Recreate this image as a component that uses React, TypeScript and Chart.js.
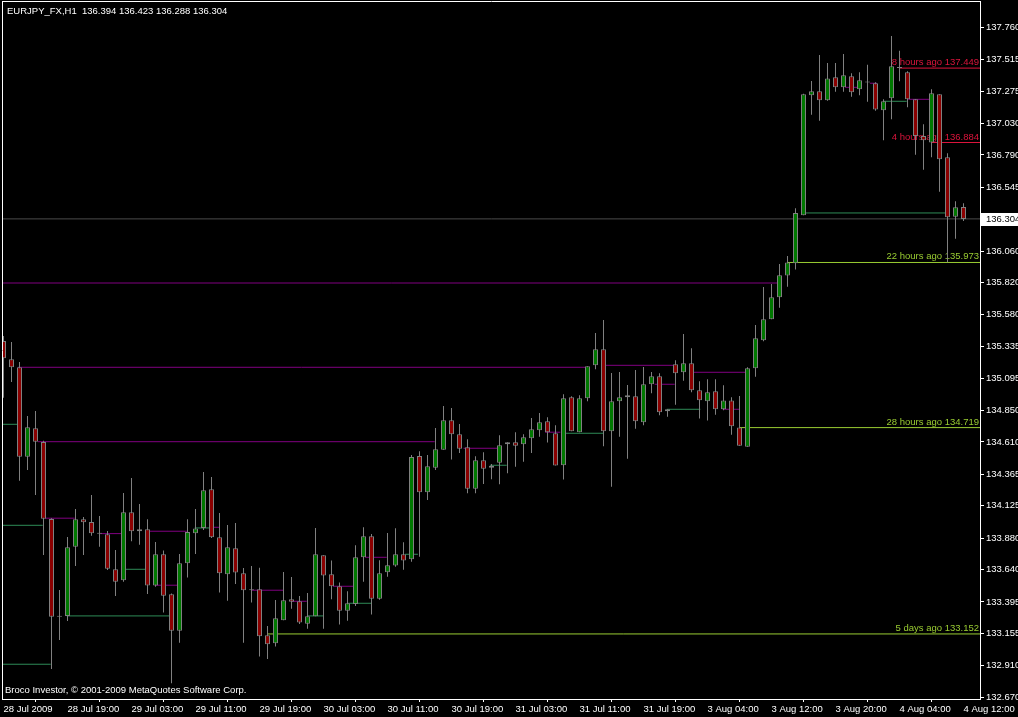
import React, { useEffect, useRef } from "react";
import { Chart, registerables } from "chart.js";

Chart.register(...registerables);

const titleText = "EURJPY_FX,H1  136.394 136.423 136.288 136.304";
const footerText = "Broco Investor, \u00A9 2001-2009 MetaQuotes Software Corp.";

// Hourly bars, index 0 = 28 Jul 2009 11:00 ... index 120 = 4 Aug 12:00
const opens = [
  135.377, 135.238, 135.177, 134.498, 134.714, 134.610, 134.025, 133.283, 133.289, 133.815,
  134.023, 134.002, 133.914, 133.909, 133.643, 133.560, 134.076, 133.932, 133.947, 133.519,
  133.757, 133.453, 133.177, 133.689, 133.917, 133.957, 134.251, 133.886, 133.605, 133.803,
  133.613, 133.484, 133.491, 133.142, 133.081, 133.256, 133.416, 133.400, 133.230, 133.286,
  133.750, 133.605, 133.514, 133.329, 133.380, 133.734, 133.894, 133.420, 133.621, 133.671,
  133.757, 133.719, 134.504, 134.228, 134.415, 134.551, 134.775, 134.668, 134.570, 134.255,
  134.471, 134.415, 134.453, 134.592, 134.608, 134.592, 134.638, 134.699, 134.767, 134.676,
  134.433, 134.949, 134.684, 134.942, 135.192, 135.314, 134.691, 134.919, 134.949, 134.957,
  134.759, 135.048, 135.109, 134.843, 135.200, 135.139, 135.207, 135.002, 134.919, 134.995,
  134.858, 134.924, 134.719, 134.574, 135.170, 135.382, 135.542, 135.709, 135.874, 135.967,
  136.331, 137.242, 137.273, 137.204, 137.379, 137.303, 137.387, 137.288, 137.341, 137.334,
  137.129, 137.220, 137.449, 137.417, 137.212, 136.933, 136.884, 137.250, 136.772, 136.321,
  136.394,
];
const highs = [
  135.415, 135.369, 135.217, 134.807, 134.845, 134.620, 134.031, 133.486, 133.889, 134.101,
  134.040, 134.207, 134.048, 133.934, 133.790, 134.223, 134.337, 134.139, 134.023, 133.851,
  133.785, 133.460, 133.759, 134.023, 134.101, 134.382, 134.344, 134.071, 133.980, 133.995,
  133.653, 133.668, 133.655, 133.213, 133.410, 133.623, 133.585, 133.441, 133.463, 133.957,
  133.750, 133.709, 133.542, 133.476, 133.826, 133.962, 133.911, 133.712, 133.919, 133.955,
  133.848, 134.511, 134.539, 134.511, 134.716, 134.883, 134.868, 134.747, 134.630, 134.501,
  134.532, 134.443, 134.661, 134.608, 134.684, 134.668, 134.792, 134.830, 134.797, 134.737,
  134.972, 134.957, 134.965, 135.185, 135.438, 135.536, 135.134, 135.141, 135.043, 135.157,
  135.179, 135.141, 135.132, 134.858, 135.230, 135.430, 135.321, 135.071, 135.086, 135.086,
  135.040, 134.949, 134.959, 135.177, 135.498, 135.787, 135.810, 135.961, 136.022, 136.384,
  137.255, 137.351, 137.548, 137.488, 137.488, 137.556, 137.409, 137.417, 137.475, 137.341,
  137.212, 137.693, 137.581, 137.425, 137.212, 137.022, 137.288, 137.250, 136.802, 136.438,
  136.423,
];
const lows = [
  134.946, 135.065, 134.316, 134.397, 134.207, 133.752, 132.886, 133.106, 133.251, 133.668,
  133.752, 133.898, 133.815, 133.638, 133.441, 133.549, 133.856, 133.830, 133.456, 133.511,
  133.314, 132.778, 133.086, 133.580, 133.759, 133.942, 133.880, 133.466, 133.405, 133.532,
  133.086, 133.390, 132.980, 132.962, 133.056, 133.256, 133.344, 133.228, 133.192, 133.286,
  133.192, 133.416, 133.223, 133.253, 133.365, 133.549, 133.299, 133.412, 133.587, 133.663,
  133.640, 133.701, 133.739, 134.170, 134.397, 134.551, 134.476, 134.526, 134.220, 134.220,
  134.291, 134.327, 134.289, 134.372, 134.422, 134.460, 134.526, 134.650, 134.606, 134.431,
  134.324, 134.691, 134.684, 134.919, 135.162, 134.577, 134.270, 134.650, 134.483, 134.711,
  134.737, 134.980, 134.813, 134.802, 134.893, 135.075, 134.987, 134.788, 134.772, 134.817,
  134.851, 134.665, 134.582, 134.574, 135.106, 135.375, 135.542, 135.630, 135.789, 135.920,
  136.331, 137.095, 137.050, 137.201, 137.270, 137.270, 137.232, 137.242, 137.194, 137.125,
  136.901, 137.060, 137.349, 137.151, 136.791, 136.677, 136.772, 136.510, 135.974, 136.154,
  136.288,
];
const closes = [
  135.245, 135.177, 134.498, 134.721, 134.612, 134.027, 133.283, 133.286, 133.810, 134.023,
  134.000, 133.917, 133.912, 133.648, 133.549, 134.076, 133.932, 133.947, 133.519, 133.757,
  133.443, 133.177, 133.689, 133.926, 133.952, 134.243, 133.886, 133.613, 133.810, 133.618,
  133.484, 133.487, 133.135, 133.074, 133.271, 133.408, 133.397, 133.238, 133.286, 133.757,
  133.595, 133.514, 133.329, 133.385, 133.734, 133.894, 133.420, 133.613, 133.674, 133.757,
  133.709, 134.496, 134.228, 134.425, 134.554, 134.775, 134.668, 134.559, 134.255, 134.471,
  134.407, 134.430, 134.585, 134.608, 134.582, 134.646, 134.706, 134.759, 134.684, 134.431,
  134.942, 134.691, 134.942, 135.185, 135.314, 134.691, 134.919, 134.949, 134.965, 134.767,
  135.048, 135.109, 134.835, 134.858, 135.132, 135.207, 135.002, 134.926, 134.987, 134.858,
  134.924, 134.729, 134.582, 135.170, 135.397, 135.542, 135.709, 135.876, 135.973, 136.349,
  137.250, 137.273, 137.204, 137.371, 137.303, 137.394, 137.265, 137.356, 137.339, 137.135,
  137.197, 137.463, 137.455, 137.212, 136.933, 136.901, 137.258, 136.756, 136.316, 136.392,
  136.304,
];

const xTickBars = [0, 8, 16, 24, 32, 40, 48, 56, 64, 72, 80, 88, 96, 104, 112, 120];
const xTickLabels = [
  "28 Jul 2009", "28 Jul 19:00", "29 Jul 03:00", "29 Jul 11:00", "29 Jul 19:00",
  "30 Jul 03:00", "30 Jul 11:00", "30 Jul 19:00", "31 Jul 03:00", "31 Jul 11:00",
  "31 Jul 19:00", "3 Aug 04:00", "3 Aug 12:00", "3 Aug 20:00", "4 Aug 04:00", "4 Aug 12:00",
];
const yTickLabels = [
  "132.670", "132.910", "133.155", "133.395", "133.640", "133.880", "134.125", "134.365",
  "134.610", "134.850", "135.095", "135.335", "135.580", "135.820", "136.060",
  "136.545", "136.790", "137.030", "137.275", "137.515", "137.760",
];
const bidPrice = 136.304;

// open-level segments: [fromBar, toBar, price]
const bearLevels: [number, number, number][] = [
  [1.8, 72.7, 135.177], [4.3, 53.9, 134.612], [5.2, 8.9, 134.031], [12.1, 14.8, 133.914],
  [17.9, 22.9, 133.932], [18.9, 21.8, 133.522], [26.0, 27.0, 133.962], [31.0, 35.0, 133.484],
  [36.0, 37.9, 133.400], [41.2, 43.7, 133.514], [45.2, 47.9, 133.734], [57.5, 61.8, 134.562],
  [67.7, 69.6, 134.684], [75.2, 83.7, 135.192], [81.4, 83.9, 135.048], [86.1, 92.7, 135.139],
  [89.9, 92.0, 134.858], [-0.1, 97.1, 135.817], [105.2, 106.7, 137.303], [108.3, 109.2, 137.334],
  [113.1, 115.8, 137.212],
];
const bullLevels: [number, number, number][] = [
  [-0.1, 1.7, 134.744], [-0.1, 4.9, 133.977], [-0.1, 5.9, 132.922], [7.9, 20.7, 133.289],
  [14.9, 17.8, 133.643], [23.9, 26.0, 133.957], [38.0, 40.0, 133.289], [43.1, 46.0, 133.385],
  [50.2, 51.8, 133.757], [60.8, 62.9, 134.433], [70.2, 75.0, 134.676], [82.9, 87.1, 134.858],
  [100.2, 117.7, 136.349], [110.0, 112.9, 137.197],
];

// "... ago" reference levels
const agoTexts = ["5 days ago", "28 hours ago", "22 hours ago", "4 hours ago", "8 hours ago"];
const agoPrices = [133.152, 134.719, 135.973, 136.884, 137.449];
const agoFromBar = [33, 92, 98, 116, 112];
const agoRecent = [false, false, false, true, true];

const X_MIN = -0.0625;
const X_MAX = 122.0625;
const Y_MIN = 132.658;
const Y_MAX = 137.951;

const FAMILY = '"Liberation Sans", Arial, sans-serif';
const FS = 9.5;
const CSS_FONT = `${FS}px ${FAMILY}`;

const BULL = "#007800";
const BEAR = "#8B0000";
const EDGE = "#808080";
const PURPLE = "#800080";
const SEAGREEN = "#2E8B57";
const YGREEN = "#9ACD32";
const CRIMSON = "#DC143C";
const BIDLINE = "#4a4a4a";

const overlayPlugin = {
  id: "mt4overlay",
  beforeDatasetsDraw(chart: any) {
    const { ctx, chartArea, scales } = chart;
    ctx.save();
    ctx.font = CSS_FONT;
    ctx.textAlign = "right";
    ctx.textBaseline = "alphabetic";
    agoPrices.forEach((p, k) => {
      const py = scales.y.getPixelForValue(p);
      ctx.fillStyle = agoRecent[k] ? CRIMSON : YGREEN;
      ctx.fillText(`${agoTexts[k]} ${p.toFixed(3)}`, chartArea.right - 1, Math.round(py) - 3);
    });
    ctx.restore();
  },
  afterDraw(chart: any) {
    const { ctx, chartArea, scales } = chart;
    ctx.save();
    ctx.strokeStyle = "#ffffff";
    ctx.lineWidth = 1;
    ctx.beginPath();
    ctx.moveTo(2.5, 1);
    ctx.lineTo(2.5, chartArea.bottom + 1);
    ctx.moveTo(2, 1.5);
    ctx.lineTo(chartArea.right + 1, 1.5);
    ctx.stroke();

    ctx.font = CSS_FONT;
    ctx.fillStyle = "#ffffff";
    ctx.textAlign = "left";
    ctx.textBaseline = "middle";
    ctx.fillText(titleText, 7, 11);
    ctx.fillText(footerText, 5, 690);

    const by = Math.round(scales.y.getPixelForValue(bidPrice));
    ctx.fillStyle = "#ffffff";
    ctx.fillRect(chartArea.right + 1, by - 6, 38, 13);
    ctx.fillStyle = "#000000";
    ctx.fillText(bidPrice.toFixed(3), chartArea.right + 6, by + 0.5);
    ctx.restore();
  },
};

export default function App() {
  const ref = useRef<HTMLCanvasElement | null>(null);

  useEffect(() => {
    const canvas = ref.current;
    if (!canvas) return;

    const wickData = highs.map((h, i) => ({ x: i, y: [lows[i], h] }));
    const bodyData = opens.map((o, i) => ({ x: i, y: [o, closes[i]] }));
    const bodyColors = opens.map((o, i) => (closes[i] >= o ? BULL : BEAR));

    const levelSet = (segs: [number, number, number][], color: string) =>
      segs.map(([s, e, p]) => ({
        type: "line" as const,
        data: [{ x: s, y: p }, { x: e, y: p }],
        borderColor: color,
        borderWidth: 1,
        pointRadius: 0,
        tension: 0,
        order: 10,
      }));

    const agoSets = agoPrices.map((p, k) => ({
      type: "line" as const,
      data: [{ x: agoFromBar[k], y: p }, { x: X_MAX, y: p }],
      borderColor: agoRecent[k] ? CRIMSON : YGREEN,
      borderWidth: 1,
      pointRadius: 0,
      order: 9,
    }));

    const bidSet = {
      type: "line" as const,
      data: [{ x: X_MIN, y: bidPrice }, { x: X_MAX, y: bidPrice }],
      borderColor: BIDLINE,
      borderWidth: 1,
      pointRadius: 0,
      order: 11,
    };

    const chart = new Chart(canvas, {
      type: "bar",
      data: {
        datasets: [
          bidSet,
          ...levelSet(bearLevels, PURPLE),
          ...levelSet(bullLevels, SEAGREEN),
          ...agoSets,
          {
            type: "bar",
            data: wickData,
            backgroundColor: EDGE,
            borderWidth: 0,
            barThickness: 1,
            grouped: false,
            inflateAmount: 0,
            order: 2,
          },
          {
            type: "bar",
            data: bodyData,
            backgroundColor: bodyColors,
            borderColor: EDGE,
            borderWidth: 1,
            borderSkipped: false,
            barThickness: 5,
            minBarLength: 1,
            grouped: false,
            inflateAmount: 0,
            order: 1,
          },
        ] as any,
      },
      options: {
        animation: false,
        responsive: false,
        devicePixelRatio: 1,
        events: [],
        layout: { padding: { left: 3, top: 2, right: 0, bottom: 0 } },
        plugins: {
          legend: { display: false },
          tooltip: { enabled: false },
        },
        scales: {
          x: {
            type: "linear",
            position: "bottom",
            min: X_MIN,
            max: X_MAX,
            bounds: "data",
            offset: false,
            grid: {
              display: true,
              drawOnChartArea: false,
              drawTicks: true,
              tickLength: 3,
              color: "#ffffff",
            },
            border: { display: true, color: "#ffffff", width: 1 },
            ticks: {
              autoSkip: false,
              maxRotation: 0,
              minRotation: 0,
              align: "start",
              padding: 2,
              color: "#ffffff",
              font: { family: FAMILY, size: FS },
              callback: (_v: any, i: number) => xTickLabels[i] ?? "",
            },
            afterBuildTicks: (s: any) => {
              s.ticks = xTickBars.map((v) => ({ value: v }));
            },
            afterFit: (s: any) => {
              s.height = 18;
              s.paddingLeft = 0;
              s.paddingRight = 0;
            },
          } as any,
          y: {
            type: "linear",
            position: "right",
            min: Y_MIN,
            max: Y_MAX,
            bounds: "data",
            grid: {
              display: true,
              drawOnChartArea: false,
              drawTicks: true,
              tickLength: 4,
              color: "#ffffff",
            },
            border: { display: true, color: "#ffffff", width: 1 },
            ticks: {
              padding: 2,
              color: "#ffffff",
              font: { family: FAMILY, size: FS },
              callback: (_v: any, i: number) => yTickLabels[i] ?? "",
            },
            afterBuildTicks: (s: any) => {
              s.ticks = yTickLabels.map((t) => ({ value: parseFloat(t) }));
            },
            afterFit: (s: any) => {
              s.width = 38;
              s.paddingTop = 0;
              s.paddingBottom = 0;
            },
          } as any,
        },
      },
      plugins: [overlayPlugin],
    });

    return () => chart.destroy();
  }, []);

  return (
    <div
      style={{
        position: "fixed",
        left: 0,
        top: 0,
        width: 1018,
        height: 717,
        background: "#000000",
      }}
    >
      <canvas ref={ref} width={1018} height={717} style={{ display: "block" }} />
    </div>
  );
}
